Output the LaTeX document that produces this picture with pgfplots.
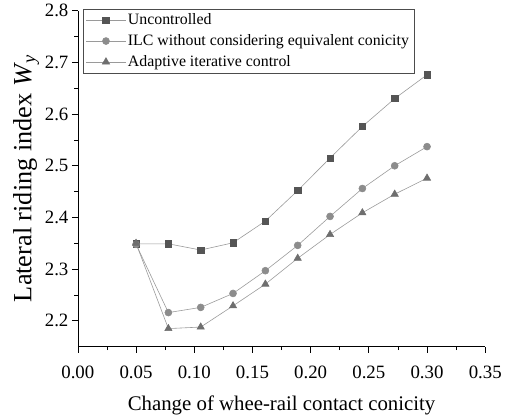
\documentclass[border={10bp 0bp 0bp 1bp}]{standalone}
\usepackage{fontspec}
\setmainfont{Liberation Serif}
\usepackage{pgfplots}
\pgfplotsset{compat=1.18}
\definecolor{sqc}{HTML}{555555}
\definecolor{cic}{HTML}{8C8C8C}
\definecolor{trc}{HTML}{6E6E6E}
\definecolor{lnc}{HTML}{9A9A9A}
\begin{document}
\begin{tikzpicture}
\begin{axis}[
  scale only axis,
  width=411bp, height=339bp,
  xmin=0, xmax=0.35, ymin=2.15, ymax=2.8,
  axis lines=left,
  axis line style={-, black, line width=0.7pt},
  tick align=outside,
  xtick={0,0.05,...,0.351},
  ytick={2.2,2.3,...,2.81},
  minor x tick num=1,
  minor y tick num=1,
  major tick length=6bp,
  minor tick length=3.5bp,
  tick style={black, line width=0.7pt},
  /pgf/number format/assume math mode=true,
  ticklabel style={font=\fontsize{19bp}{21bp}\selectfont},
  xticklabel style={yshift=-10bp, /pgf/number format/.cd, fixed, fixed zerofill, precision=2},
  yticklabel style={/pgf/number format/.cd, fixed, fixed zerofill, precision=1},
  xlabel={Change of whee-rail contact conicity},
  ylabel={Lateral riding index \textit{W}\textsubscript{\kern-1pt\textit{y}}},
  xlabel style={font=\fontsize{21bp}{24bp}\selectfont, yshift=-10bp},
  ylabel style={font=\fontsize{26.5bp}{28bp}\selectfont, yshift=-1bp},
  legend style={at={(rel axis cs:0.012,1.006)}, anchor=north west,
    draw=black!70, line width=0.6pt, font=\fontsize{16bp}{18bp}\selectfont,
    row sep=4.5bp, inner xsep=3bp, inner ysep=3bp},
  legend cell align=left,
  legend image code/.code={\draw[mark repeat=2,mark phase=2] plot coordinates {(0cm,0cm) (0.7cm,0cm) (1.4cm,0cm)};},
  every axis plot/.append style={line width=0.6pt},
]
\addplot[color=lnc, mark=square*, mark size=3.2bp, mark options={draw=sqc, fill=sqc}] coordinates {
(0.05,2.349) (0.07778,2.349) (0.10556,2.337) (0.13333,2.351) (0.16111,2.393)
(0.18889,2.452) (0.21667,2.515) (0.24444,2.576) (0.27222,2.630) (0.3,2.676)};
\addlegendentry{Uncontrolled}
\addplot[color=lnc, mark=*, mark size=3.5bp, mark options={draw=cic, fill=cic}] coordinates {
(0.05,2.348) (0.07778,2.216) (0.10556,2.226) (0.13333,2.253) (0.16111,2.297)
(0.18889,2.346) (0.21667,2.402) (0.24444,2.456) (0.27222,2.500) (0.3,2.537)};
\addlegendentry{ILC without considering equivalent conicity}
\addplot[color=lnc, mark=triangle*, mark size=4.2bp, mark options={draw=trc, fill=trc}] coordinates {
(0.05,2.350) (0.07778,2.185) (0.10556,2.188) (0.13333,2.229) (0.16111,2.271)
(0.18889,2.321) (0.21667,2.367) (0.24444,2.409) (0.27222,2.445) (0.3,2.476)};
\addlegendentry{Adaptive iterative control}
\end{axis}
\end{tikzpicture}
\end{document}
